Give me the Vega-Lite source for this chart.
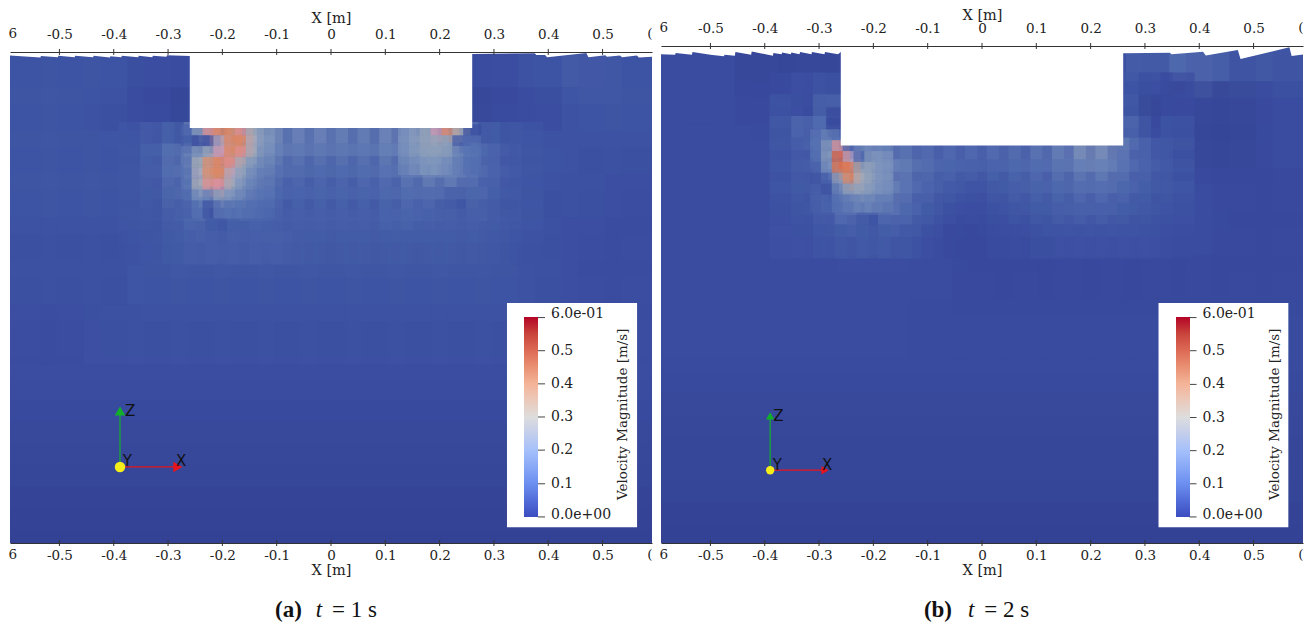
{"$schema":"https://vega.github.io/schema/vega-lite/v6.json","background":"white","padding":{"left":8,"top":7,"right":0,"bottom":0},"bounds":"flush","spacing":9,
"resolve":{"scale":{"stroke":"independent","fill":"independent","color":"independent","shape":"independent"},"legend":{"stroke":"independent"}},
"config":{"view":{"stroke":null},"axis":{"labelFont":"DejaVu Serif","labelFontSize":13.5,"labelColor":"#222","titleFont":"DejaVu Serif","titleFontSize":14.5,"titleFontWeight":"normal","titleColor":"#222","domain":true,"domainColor":"#333","domainWidth":1,"ticks":false,"grid":false,"labelOverlap":false,"labelFlush":false},"legend":{"gradientLength":200,"gradientThickness":14,"gradientStrokeWidth":0,"labelOverlap":false}},
"datasets":{
"a_band":[{"x":-0.6,"x2":0.6,"z":0.02,"z2":-0.57,"v":0.055},{"x":-0.6,"x2":0.6,"z":-0.56,"z2":-0.61,"v":0.05},{"x":-0.6,"x2":0.6,"z":-0.6,"z2":-0.65,"v":0.047},{"x":-0.6,"x2":0.6,"z":-0.64,"z2":-0.69,"v":0.043},{"x":-0.6,"x2":0.6,"z":-0.68,"z2":-0.73,"v":0.04},{"x":-0.6,"x2":0.6,"z":-0.72,"z2":-0.77,"v":0.035},{"x":-0.6,"x2":0.6,"z":-0.76,"z2":-0.81,"v":0.03},{"x":-0.6,"x2":0.6,"z":-0.8,"z2":-0.85,"v":0.026},{"x":-0.6,"x2":0.6,"z":-0.84,"z2":-0.89,"v":0.022},{"x":-0.6,"x2":0.6,"z":-0.88,"z2":-0.93,"v":0.02}],
"b_band":[{"x":-0.6,"x2":0.6,"z":0.02,"z2":-0.57,"v":0.05},{"x":-0.6,"x2":0.6,"z":-0.56,"z2":-0.61,"v":0.045},{"x":-0.6,"x2":0.6,"z":-0.6,"z2":-0.65,"v":0.042},{"x":-0.6,"x2":0.6,"z":-0.64,"z2":-0.69,"v":0.04},{"x":-0.6,"x2":0.6,"z":-0.68,"z2":-0.73,"v":0.037},{"x":-0.6,"x2":0.6,"z":-0.72,"z2":-0.77,"v":0.033},{"x":-0.6,"x2":0.6,"z":-0.76,"z2":-0.81,"v":0.03},{"x":-0.6,"x2":0.6,"z":-0.8,"z2":-0.85,"v":0.027},{"x":-0.6,"x2":0.6,"z":-0.84,"z2":-0.89,"v":0.023},{"x":-0.6,"x2":0.6,"z":-0.88,"z2":-0.93,"v":0.02}],
"a_far":[
{"x":-0.56,"z":-0.04,"v":0.07},{"x":-0.48,"z":-0.04,"v":0.07},{"x":-0.4,"z":-0.04,"v":0.07},{"x":-0.32,"z":-0.04,"v":0.05},{"x":-0.24,"z":-0.04,"v":0.05},{"x":0.24,"z":-0.04,"v":0.04},{"x":0.32,"z":-0.04,"v":0.05},{"x":0.4,"z":-0.04,"v":0.07},{"x":0.48,"z":-0.04,"v":0.09},{"x":0.56,"z":-0.04,"v":0.07},
{"x":-0.56,"z":-0.12,"v":0.07},{"x":-0.48,"z":-0.12,"v":0.07},{"x":-0.4,"z":-0.12,"v":0.06},{"x":-0.32,"z":-0.12,"v":0.04},{"x":-0.24,"z":-0.12,"v":0.03},{"x":0.24,"z":-0.12,"v":0.03},{"x":0.32,"z":-0.12,"v":0.04},{"x":0.4,"z":-0.12,"v":0.05},{"x":0.48,"z":-0.12,"v":0.07},{"x":0.56,"z":-0.12,"v":0.07},
{"x":-0.56,"z":-0.2,"v":0.07},{"x":-0.48,"z":-0.2,"v":0.07},{"x":-0.4,"z":-0.2,"v":0.07},{"x":0.4,"z":-0.2,"v":0.07},{"x":0.48,"z":-0.2,"v":0.06},{"x":0.56,"z":-0.2,"v":0.06},
{"x":-0.56,"z":-0.28,"v":0.07},{"x":-0.48,"z":-0.28,"v":0.07},{"x":-0.4,"z":-0.28,"v":0.07},{"x":0.4,"z":-0.28,"v":0.06},{"x":0.48,"z":-0.28,"v":0.06},{"x":0.56,"z":-0.28,"v":0.05},
{"x":-0.56,"z":-0.36,"v":0.06},{"x":-0.48,"z":-0.36,"v":0.06},{"x":-0.4,"z":-0.36,"v":0.06},{"x":-0.32,"z":-0.36,"v":0.07},{"x":-0.24,"z":-0.36,"v":0.08},{"x":-0.16,"z":-0.36,"v":0.08},{"x":-0.08,"z":-0.36,"v":0.08},{"x":0,"z":-0.36,"v":0.08},{"x":0.08,"z":-0.36,"v":0.08},{"x":0.16,"z":-0.36,"v":0.08},{"x":0.24,"z":-0.36,"v":0.08},{"x":0.32,"z":-0.36,"v":0.07},{"x":0.4,"z":-0.36,"v":0.06},{"x":0.48,"z":-0.36,"v":0.05},{"x":0.56,"z":-0.36,"v":0.05},
{"x":-0.56,"z":-0.44,"v":0.06},{"x":-0.48,"z":-0.44,"v":0.06},{"x":-0.4,"z":-0.44,"v":0.06},{"x":-0.32,"z":-0.44,"v":0.07},{"x":-0.24,"z":-0.44,"v":0.07},{"x":-0.16,"z":-0.44,"v":0.07},{"x":-0.08,"z":-0.44,"v":0.07},{"x":0,"z":-0.44,"v":0.07},{"x":0.08,"z":-0.44,"v":0.07},{"x":0.16,"z":-0.44,"v":0.07},{"x":0.24,"z":-0.44,"v":0.07},{"x":0.32,"z":-0.44,"v":0.07},{"x":0.4,"z":-0.44,"v":0.06},{"x":0.48,"z":-0.44,"v":0.05},{"x":0.56,"z":-0.44,"v":0.05},
{"x":-0.56,"z":-0.52,"v":0.05},{"x":-0.48,"z":-0.52,"v":0.05},{"x":-0.4,"z":-0.52,"v":0.06},{"x":-0.32,"z":-0.52,"v":0.06},{"x":-0.24,"z":-0.52,"v":0.06},{"x":-0.16,"z":-0.52,"v":0.06},{"x":-0.08,"z":-0.52,"v":0.06},{"x":0,"z":-0.52,"v":0.06},{"x":0.08,"z":-0.52,"v":0.06},{"x":0.16,"z":-0.52,"v":0.06},{"x":0.24,"z":-0.52,"v":0.06},{"x":0.32,"z":-0.52,"v":0.06},{"x":0.4,"z":-0.52,"v":0.05},{"x":0.48,"z":-0.52,"v":0.05},{"x":0.56,"z":-0.52,"v":0.05}],
"a_mid":[
{"x":-0.36,"z":-0.16,"v":0.07},{"x":-0.32,"z":-0.16,"v":0.09},{"x":-0.28,"z":-0.16,"v":0.1},{"x":-0.24,"z":-0.16,"v":0.17},{"x":-0.2,"z":-0.16,"v":0.4},{"x":-0.16,"z":-0.16,"v":0.3},{"x":-0.12,"z":-0.16,"v":0.22},{"x":-0.08,"z":-0.16,"v":0.18},{"x":-0.04,"z":-0.16,"v":0.18},{"x":0,"z":-0.16,"v":0.18},{"x":0.04,"z":-0.16,"v":0.17},{"x":0.08,"z":-0.16,"v":0.17},{"x":0.12,"z":-0.16,"v":0.19},{"x":0.16,"z":-0.16,"v":0.21},{"x":0.2,"z":-0.16,"v":0.25},{"x":0.24,"z":-0.16,"v":0.18},{"x":0.28,"z":-0.16,"v":0.1},{"x":0.32,"z":-0.16,"v":0.08},{"x":0.36,"z":-0.16,"v":0.07},
{"x":-0.36,"z":-0.2,"v":0.07},{"x":-0.32,"z":-0.2,"v":0.1},{"x":-0.28,"z":-0.2,"v":0.14},{"x":-0.24,"z":-0.2,"v":0.22},{"x":-0.2,"z":-0.2,"v":0.38},{"x":-0.16,"z":-0.2,"v":0.27},{"x":-0.12,"z":-0.2,"v":0.18},{"x":-0.08,"z":-0.2,"v":0.15},{"x":-0.04,"z":-0.2,"v":0.14},{"x":0,"z":-0.2,"v":0.14},{"x":0.04,"z":-0.2,"v":0.14},{"x":0.08,"z":-0.2,"v":0.14},{"x":0.12,"z":-0.2,"v":0.16},{"x":0.16,"z":-0.2,"v":0.19},{"x":0.2,"z":-0.2,"v":0.23},{"x":0.24,"z":-0.2,"v":0.19},{"x":0.28,"z":-0.2,"v":0.13},{"x":0.32,"z":-0.2,"v":0.09},{"x":0.36,"z":-0.2,"v":0.07},
{"x":-0.36,"z":-0.24,"v":0.07},{"x":-0.32,"z":-0.24,"v":0.09},{"x":-0.28,"z":-0.24,"v":0.13},{"x":-0.24,"z":-0.24,"v":0.22},{"x":-0.2,"z":-0.24,"v":0.3},{"x":-0.16,"z":-0.24,"v":0.2},{"x":-0.12,"z":-0.24,"v":0.14},{"x":-0.08,"z":-0.24,"v":0.12},{"x":-0.04,"z":-0.24,"v":0.11},{"x":0,"z":-0.24,"v":0.11},{"x":0.04,"z":-0.24,"v":0.11},{"x":0.08,"z":-0.24,"v":0.12},{"x":0.12,"z":-0.24,"v":0.13},{"x":0.16,"z":-0.24,"v":0.15},{"x":0.2,"z":-0.24,"v":0.17},{"x":0.24,"z":-0.24,"v":0.16},{"x":0.28,"z":-0.24,"v":0.12},{"x":0.32,"z":-0.24,"v":0.09},{"x":0.36,"z":-0.24,"v":0.07},
{"x":-0.36,"z":-0.28,"v":0.07},{"x":-0.32,"z":-0.28,"v":0.08},{"x":-0.28,"z":-0.28,"v":0.11},{"x":-0.24,"z":-0.28,"v":0.15},{"x":-0.2,"z":-0.28,"v":0.1},{"x":-0.16,"z":-0.28,"v":0.14},{"x":-0.12,"z":-0.28,"v":0.12},{"x":-0.08,"z":-0.28,"v":0.1},{"x":-0.04,"z":-0.28,"v":0.1},{"x":0,"z":-0.28,"v":0.1},{"x":0.04,"z":-0.28,"v":0.1},{"x":0.08,"z":-0.28,"v":0.1},{"x":0.12,"z":-0.28,"v":0.11},{"x":0.16,"z":-0.28,"v":0.12},{"x":0.2,"z":-0.28,"v":0.11},{"x":0.24,"z":-0.28,"v":0.08},{"x":0.28,"z":-0.28,"v":0.11},{"x":0.32,"z":-0.28,"v":0.08},{"x":0.36,"z":-0.28,"v":0.07},
{"x":-0.36,"z":-0.32,"v":0.07},{"x":-0.32,"z":-0.32,"v":0.07},{"x":-0.28,"z":-0.32,"v":0.09},{"x":-0.24,"z":-0.32,"v":0.11},{"x":-0.2,"z":-0.32,"v":0.07},{"x":-0.16,"z":-0.32,"v":0.1},{"x":-0.12,"z":-0.32,"v":0.1},{"x":-0.08,"z":-0.32,"v":0.09},{"x":-0.04,"z":-0.32,"v":0.09},{"x":0,"z":-0.32,"v":0.09},{"x":0.04,"z":-0.32,"v":0.09},{"x":0.08,"z":-0.32,"v":0.09},{"x":0.12,"z":-0.32,"v":0.1},{"x":0.16,"z":-0.32,"v":0.1},{"x":0.2,"z":-0.32,"v":0.09},{"x":0.24,"z":-0.32,"v":0.09},{"x":0.28,"z":-0.32,"v":0.09},{"x":0.32,"z":-0.32,"v":0.08},{"x":0.36,"z":-0.32,"v":0.07},
{"x":-0.36,"z":-0.36,"v":0.06},{"x":-0.32,"z":-0.36,"v":0.07},{"x":-0.28,"z":-0.36,"v":0.08},{"x":-0.24,"z":-0.36,"v":0.09},{"x":-0.2,"z":-0.36,"v":0.09},{"x":-0.16,"z":-0.36,"v":0.09},{"x":-0.12,"z":-0.36,"v":0.09},{"x":-0.08,"z":-0.36,"v":0.09},{"x":-0.04,"z":-0.36,"v":0.08},{"x":0,"z":-0.36,"v":0.08},{"x":0.04,"z":-0.36,"v":0.08},{"x":0.08,"z":-0.36,"v":0.08},{"x":0.12,"z":-0.36,"v":0.08},{"x":0.16,"z":-0.36,"v":0.08},{"x":0.2,"z":-0.36,"v":0.08},{"x":0.24,"z":-0.36,"v":0.08},{"x":0.28,"z":-0.36,"v":0.08},{"x":0.32,"z":-0.36,"v":0.07},{"x":0.36,"z":-0.36,"v":0.06}],
"a_fine":[
{"x":-0.26,"z":-0.15,"v":0.1},{"x":-0.24,"z":-0.15,"v":0.24},{"x":-0.22,"z":-0.15,"v":0.38},{"x":-0.2,"z":-0.15,"v":0.42},{"x":-0.18,"z":-0.15,"v":0.42},{"x":-0.16,"z":-0.15,"v":0.38},{"x":-0.14,"z":-0.15,"v":0.28},{"x":-0.12,"z":-0.15,"v":0.21},
{"x":-0.26,"z":-0.17,"v":0.08},{"x":-0.24,"z":-0.17,"v":0.05},{"x":-0.22,"z":-0.17,"v":0.07},{"x":-0.2,"z":-0.17,"v":0.33},{"x":-0.18,"z":-0.17,"v":0.43},{"x":-0.16,"z":-0.17,"v":0.42},{"x":-0.14,"z":-0.17,"v":0.32},{"x":-0.12,"z":-0.17,"v":0.21},
{"x":-0.26,"z":-0.19,"v":0.15},{"x":-0.24,"z":-0.19,"v":0.22},{"x":-0.22,"z":-0.19,"v":0.26},{"x":-0.2,"z":-0.19,"v":0.36},{"x":-0.18,"z":-0.19,"v":0.42},{"x":-0.16,"z":-0.19,"v":0.38},{"x":-0.14,"z":-0.19,"v":0.28},{"x":-0.12,"z":-0.19,"v":0.19},
{"x":-0.26,"z":-0.21,"v":0.14},{"x":-0.24,"z":-0.21,"v":0.3},{"x":-0.22,"z":-0.21,"v":0.41},{"x":-0.2,"z":-0.21,"v":0.43},{"x":-0.18,"z":-0.21,"v":0.38},{"x":-0.16,"z":-0.21,"v":0.28},{"x":-0.14,"z":-0.21,"v":0.21},{"x":-0.12,"z":-0.21,"v":0.17},
{"x":-0.26,"z":-0.23,"v":0.13},{"x":-0.24,"z":-0.23,"v":0.32},{"x":-0.22,"z":-0.23,"v":0.41},{"x":-0.2,"z":-0.23,"v":0.42},{"x":-0.18,"z":-0.23,"v":0.33},{"x":-0.16,"z":-0.23,"v":0.24},{"x":-0.14,"z":-0.23,"v":0.18},{"x":-0.12,"z":-0.23,"v":0.15},
{"x":-0.26,"z":-0.25,"v":0.13},{"x":-0.24,"z":-0.25,"v":0.3},{"x":-0.22,"z":-0.25,"v":0.38},{"x":-0.2,"z":-0.25,"v":0.37},{"x":-0.18,"z":-0.25,"v":0.28},{"x":-0.16,"z":-0.25,"v":0.2},{"x":-0.14,"z":-0.25,"v":0.16},{"x":-0.12,"z":-0.25,"v":0.14},
{"x":-0.26,"z":-0.27,"v":0.11},{"x":-0.24,"z":-0.27,"v":0.2},{"x":-0.22,"z":-0.27,"v":0.16},{"x":-0.2,"z":-0.27,"v":0.25},{"x":-0.18,"z":-0.27,"v":0.2},{"x":-0.16,"z":-0.27,"v":0.17},{"x":-0.14,"z":-0.27,"v":0.14},{"x":-0.12,"z":-0.27,"v":0.13},
{"x":-0.26,"z":-0.29,"v":0.09},{"x":-0.24,"z":-0.29,"v":0.13},{"x":-0.22,"z":-0.29,"v":0.06},{"x":-0.2,"z":-0.29,"v":0.14},{"x":-0.18,"z":-0.29,"v":0.13},{"x":-0.16,"z":-0.29,"v":0.13},{"x":-0.14,"z":-0.29,"v":0.12},{"x":-0.12,"z":-0.29,"v":0.11},
{"x":0.14,"z":-0.15,"v":0.2},{"x":0.16,"z":-0.15,"v":0.23},{"x":0.18,"z":-0.15,"v":0.26},{"x":0.2,"z":-0.15,"v":0.36},{"x":0.22,"z":-0.15,"v":0.42},{"x":0.24,"z":-0.15,"v":0.3},{"x":0.26,"z":-0.15,"v":0.05},
{"x":0.14,"z":-0.17,"v":0.2},{"x":0.16,"z":-0.17,"v":0.23},{"x":0.18,"z":-0.17,"v":0.25},{"x":0.2,"z":-0.17,"v":0.26},{"x":0.22,"z":-0.17,"v":0.24},{"x":0.24,"z":-0.17,"v":0.07},{"x":0.26,"z":-0.17,"v":0.12},
{"x":0.14,"z":-0.19,"v":0.19},{"x":0.16,"z":-0.19,"v":0.22},{"x":0.18,"z":-0.19,"v":0.24},{"x":0.2,"z":-0.19,"v":0.24},{"x":0.22,"z":-0.19,"v":0.22},{"x":0.24,"z":-0.19,"v":0.16},{"x":0.26,"z":-0.19,"v":0.13},
{"x":0.14,"z":-0.21,"v":0.17},{"x":0.16,"z":-0.21,"v":0.19},{"x":0.18,"z":-0.21,"v":0.21},{"x":0.2,"z":-0.21,"v":0.21},{"x":0.22,"z":-0.21,"v":0.18},{"x":0.24,"z":-0.21,"v":0.15},{"x":0.26,"z":-0.21,"v":0.12}],
"b_far":[
{"x":-0.56,"z":-0.04,"v":0.05},{"x":-0.48,"z":-0.04,"v":0.05},{"x":-0.4,"z":-0.04,"v":0.03},{"x":-0.32,"z":-0.04,"v":0.03},{"x":-0.24,"z":-0.04,"v":0.03},{"x":0.24,"z":-0.04,"v":0.06},{"x":0.32,"z":-0.04,"v":0.1},{"x":0.4,"z":-0.04,"v":0.13},{"x":0.48,"z":-0.04,"v":0.08},{"x":0.56,"z":-0.04,"v":0.08},
{"x":-0.56,"z":-0.12,"v":0.05},{"x":-0.48,"z":-0.12,"v":0.05},{"x":-0.4,"z":-0.12,"v":0.04},{"x":-0.32,"z":-0.12,"v":0.04},{"x":-0.24,"z":-0.12,"v":0.03},{"x":0.24,"z":-0.12,"v":0.04},{"x":0.32,"z":-0.12,"v":0.05},{"x":0.4,"z":-0.12,"v":0.03},{"x":0.48,"z":-0.12,"v":0.03},{"x":0.56,"z":-0.12,"v":0.05},
{"x":-0.56,"z":-0.2,"v":0.05},{"x":-0.48,"z":-0.2,"v":0.05},{"x":-0.4,"z":-0.2,"v":0.05},{"x":0.4,"z":-0.2,"v":0.03},{"x":0.48,"z":-0.2,"v":0.03},{"x":0.56,"z":-0.2,"v":0.05},
{"x":-0.56,"z":-0.28,"v":0.05},{"x":-0.48,"z":-0.28,"v":0.05},{"x":-0.4,"z":-0.28,"v":0.05},{"x":0.4,"z":-0.28,"v":0.05},{"x":0.48,"z":-0.28,"v":0.04},{"x":0.56,"z":-0.28,"v":0.04},
{"x":-0.56,"z":-0.36,"v":0.05},{"x":-0.48,"z":-0.36,"v":0.05},{"x":-0.4,"z":-0.36,"v":0.05},{"x":-0.32,"z":-0.36,"v":0.05},{"x":-0.24,"z":-0.36,"v":0.06},{"x":-0.16,"z":-0.36,"v":0.06},{"x":-0.08,"z":-0.36,"v":0.05},{"x":0,"z":-0.36,"v":0.04},{"x":0.08,"z":-0.36,"v":0.04},{"x":0.16,"z":-0.36,"v":0.05},{"x":0.24,"z":-0.36,"v":0.05},{"x":0.32,"z":-0.36,"v":0.05},{"x":0.4,"z":-0.36,"v":0.05},{"x":0.48,"z":-0.36,"v":0.04},{"x":0.56,"z":-0.36,"v":0.04},
{"x":-0.56,"z":-0.44,"v":0.05},{"x":-0.48,"z":-0.44,"v":0.05},{"x":-0.4,"z":-0.44,"v":0.05},{"x":-0.32,"z":-0.44,"v":0.05},{"x":-0.24,"z":-0.44,"v":0.05},{"x":-0.16,"z":-0.44,"v":0.05},{"x":-0.08,"z":-0.44,"v":0.05},{"x":0,"z":-0.44,"v":0.04},{"x":0.08,"z":-0.44,"v":0.04},{"x":0.16,"z":-0.44,"v":0.04},{"x":0.24,"z":-0.44,"v":0.04},{"x":0.32,"z":-0.44,"v":0.04},{"x":0.4,"z":-0.44,"v":0.04},{"x":0.48,"z":-0.44,"v":0.04},{"x":0.56,"z":-0.44,"v":0.04},
{"x":-0.56,"z":-0.52,"v":0.05},{"x":-0.48,"z":-0.52,"v":0.05},{"x":-0.4,"z":-0.52,"v":0.05},{"x":-0.32,"z":-0.52,"v":0.05},{"x":-0.24,"z":-0.52,"v":0.05},{"x":-0.16,"z":-0.52,"v":0.05},{"x":-0.08,"z":-0.52,"v":0.045},{"x":0,"z":-0.52,"v":0.045},{"x":0.08,"z":-0.52,"v":0.045},{"x":0.16,"z":-0.52,"v":0.045},{"x":0.24,"z":-0.52,"v":0.045},{"x":0.32,"z":-0.52,"v":0.045},{"x":0.4,"z":-0.52,"v":0.045},{"x":0.48,"z":-0.52,"v":0.045},{"x":0.56,"z":-0.52,"v":0.045}],
"b_mid":[
{"x":-0.36,"z":-0.08,"v":0.05},{"x":-0.32,"z":-0.08,"v":0.06},{"x":-0.28,"z":-0.08,"v":0.07},{"x":0.28,"z":-0.08,"v":0.07},{"x":0.32,"z":-0.08,"v":0.05},{"x":0.36,"z":-0.08,"v":0.04},
{"x":-0.36,"z":-0.12,"v":0.07},{"x":-0.32,"z":-0.12,"v":0.05},{"x":-0.28,"z":-0.12,"v":0.11},{"x":0.28,"z":-0.12,"v":0.08},{"x":0.32,"z":-0.12,"v":0.03},{"x":0.36,"z":-0.12,"v":0.05},
{"x":-0.36,"z":-0.16,"v":0.08},{"x":-0.32,"z":-0.16,"v":0.12},{"x":-0.28,"z":-0.16,"v":0.12},{"x":0.28,"z":-0.16,"v":0.12},{"x":0.32,"z":-0.16,"v":0.05},{"x":0.36,"z":-0.16,"v":0.07},
{"x":-0.36,"z":-0.2,"v":0.07},{"x":-0.32,"z":-0.2,"v":0.09},{"x":-0.28,"z":-0.2,"v":0.14},{"x":-0.24,"z":-0.2,"v":0.17},{"x":-0.2,"z":-0.2,"v":0.17},{"x":-0.16,"z":-0.2,"v":0.16},{"x":-0.12,"z":-0.2,"v":0.14},{"x":-0.08,"z":-0.2,"v":0.12},{"x":-0.04,"z":-0.2,"v":0.12},{"x":0,"z":-0.2,"v":0.12},{"x":0.04,"z":-0.2,"v":0.13},{"x":0.08,"z":-0.2,"v":0.13},{"x":0.12,"z":-0.2,"v":0.15},{"x":0.16,"z":-0.2,"v":0.18},{"x":0.2,"z":-0.2,"v":0.23},{"x":0.24,"z":-0.2,"v":0.21},{"x":0.28,"z":-0.2,"v":0.13},{"x":0.32,"z":-0.2,"v":0.09},{"x":0.36,"z":-0.2,"v":0.07},
{"x":-0.36,"z":-0.24,"v":0.07},{"x":-0.32,"z":-0.24,"v":0.09},{"x":-0.28,"z":-0.24,"v":0.13},{"x":-0.24,"z":-0.24,"v":0.28},{"x":-0.2,"z":-0.24,"v":0.22},{"x":-0.16,"z":-0.24,"v":0.18},{"x":-0.12,"z":-0.24,"v":0.14},{"x":-0.08,"z":-0.24,"v":0.11},{"x":-0.04,"z":-0.24,"v":0.1},{"x":0,"z":-0.24,"v":0.09},{"x":0.04,"z":-0.24,"v":0.1},{"x":0.08,"z":-0.24,"v":0.11},{"x":0.12,"z":-0.24,"v":0.12},{"x":0.16,"z":-0.24,"v":0.14},{"x":0.2,"z":-0.24,"v":0.16},{"x":0.24,"z":-0.24,"v":0.16},{"x":0.28,"z":-0.24,"v":0.12},{"x":0.32,"z":-0.24,"v":0.09},{"x":0.36,"z":-0.24,"v":0.07},
{"x":-0.36,"z":-0.28,"v":0.07},{"x":-0.32,"z":-0.28,"v":0.08},{"x":-0.28,"z":-0.28,"v":0.09},{"x":-0.24,"z":-0.28,"v":0.16},{"x":-0.2,"z":-0.28,"v":0.2},{"x":-0.16,"z":-0.28,"v":0.17},{"x":-0.12,"z":-0.28,"v":0.12},{"x":-0.08,"z":-0.28,"v":0.09},{"x":-0.04,"z":-0.28,"v":0.07},{"x":0,"z":-0.28,"v":0.06},{"x":0.04,"z":-0.28,"v":0.08},{"x":0.08,"z":-0.28,"v":0.09},{"x":0.12,"z":-0.28,"v":0.1},{"x":0.16,"z":-0.28,"v":0.11},{"x":0.2,"z":-0.28,"v":0.12},{"x":0.24,"z":-0.28,"v":0.12},{"x":0.28,"z":-0.28,"v":0.1},{"x":0.32,"z":-0.28,"v":0.08},{"x":0.36,"z":-0.28,"v":0.07},
{"x":-0.36,"z":-0.32,"v":0.06},{"x":-0.32,"z":-0.32,"v":0.07},{"x":-0.28,"z":-0.32,"v":0.09},{"x":-0.24,"z":-0.32,"v":0.13},{"x":-0.2,"z":-0.32,"v":0.07},{"x":-0.16,"z":-0.32,"v":0.13},{"x":-0.12,"z":-0.32,"v":0.1},{"x":-0.08,"z":-0.32,"v":0.07},{"x":-0.04,"z":-0.32,"v":0.05},{"x":0,"z":-0.32,"v":0.05},{"x":0.04,"z":-0.32,"v":0.06},{"x":0.08,"z":-0.32,"v":0.07},{"x":0.12,"z":-0.32,"v":0.08},{"x":0.16,"z":-0.32,"v":0.09},{"x":0.2,"z":-0.32,"v":0.09},{"x":0.24,"z":-0.32,"v":0.09},{"x":0.28,"z":-0.32,"v":0.08},{"x":0.32,"z":-0.32,"v":0.07},{"x":0.36,"z":-0.32,"v":0.06},
{"x":-0.36,"z":-0.36,"v":0.06},{"x":-0.32,"z":-0.36,"v":0.06},{"x":-0.28,"z":-0.36,"v":0.07},{"x":-0.24,"z":-0.36,"v":0.08},{"x":-0.2,"z":-0.36,"v":0.08},{"x":-0.16,"z":-0.36,"v":0.08},{"x":-0.12,"z":-0.36,"v":0.07},{"x":-0.08,"z":-0.36,"v":0.05},{"x":-0.04,"z":-0.36,"v":0.04},{"x":0,"z":-0.36,"v":0.04},{"x":0.04,"z":-0.36,"v":0.05},{"x":0.08,"z":-0.36,"v":0.05},{"x":0.12,"z":-0.36,"v":0.06},{"x":0.16,"z":-0.36,"v":0.06},{"x":0.2,"z":-0.36,"v":0.06},{"x":0.24,"z":-0.36,"v":0.06},{"x":0.28,"z":-0.36,"v":0.06},{"x":0.32,"z":-0.36,"v":0.06},{"x":0.36,"z":-0.36,"v":0.05}],
"b_fine":[
{"x":-0.27,"z":-0.13,"v":0.04},{"x":-0.27,"z":-0.15,"v":0.04},
{"x":-0.3,"z":-0.17,"v":0.13},{"x":-0.28,"z":-0.17,"v":0.16},{"x":-0.26,"z":-0.17,"v":0.12},
{"x":-0.3,"z":-0.19,"v":0.13},{"x":-0.28,"z":-0.19,"v":0.22},{"x":-0.26,"z":-0.19,"v":0.38},{"x":-0.24,"z":-0.19,"v":0.1},{"x":-0.22,"z":-0.19,"v":0.16},{"x":-0.2,"z":-0.19,"v":0.18},{"x":-0.18,"z":-0.19,"v":0.16},
{"x":-0.3,"z":-0.21,"v":0.12},{"x":-0.28,"z":-0.21,"v":0.23},{"x":-0.26,"z":-0.21,"v":0.52},{"x":-0.24,"z":-0.21,"v":0.34},{"x":-0.22,"z":-0.21,"v":0.1},{"x":-0.2,"z":-0.21,"v":0.22},{"x":-0.18,"z":-0.21,"v":0.2},
{"x":-0.3,"z":-0.23,"v":0.09},{"x":-0.28,"z":-0.23,"v":0.2},{"x":-0.26,"z":-0.23,"v":0.48},{"x":-0.24,"z":-0.23,"v":0.46},{"x":-0.22,"z":-0.23,"v":0.26},{"x":-0.2,"z":-0.23,"v":0.24},{"x":-0.18,"z":-0.23,"v":0.2},
{"x":-0.3,"z":-0.25,"v":0.06},{"x":-0.28,"z":-0.25,"v":0.1},{"x":-0.26,"z":-0.25,"v":0.25},{"x":-0.24,"z":-0.25,"v":0.42},{"x":-0.22,"z":-0.25,"v":0.31},{"x":-0.2,"z":-0.25,"v":0.24},{"x":-0.18,"z":-0.25,"v":0.2},
{"x":-0.3,"z":-0.27,"v":0.09},{"x":-0.28,"z":-0.27,"v":0.06},{"x":-0.26,"z":-0.27,"v":0.17},{"x":-0.24,"z":-0.27,"v":0.25},{"x":-0.22,"z":-0.27,"v":0.25},{"x":-0.2,"z":-0.27,"v":0.22},{"x":-0.18,"z":-0.27,"v":0.19},
{"x":-0.3,"z":-0.29,"v":0.09},{"x":-0.28,"z":-0.29,"v":0.1},{"x":-0.26,"z":-0.29,"v":0.13},{"x":-0.24,"z":-0.29,"v":0.15},{"x":-0.22,"z":-0.29,"v":0.17},{"x":-0.2,"z":-0.29,"v":0.17},{"x":-0.18,"z":-0.29,"v":0.15}],
"a_edge":[{"x":-0.6,"z":-0.006},{"x":-0.535,"z":-0.0104},{"x":-0.534,"z":-0.0074},{"x":-0.503,"z":-0.0098},{"x":-0.502,"z":-0.007},{"x":-0.472,"z":-0.0098},{"x":-0.471,"z":-0.007},{"x":-0.438,"z":-0.0098},{"x":-0.437,"z":-0.007},{"x":-0.407,"z":-0.0104},{"x":-0.406,"z":-0.008},{"x":-0.386,"z":-0.0098},{"x":-0.385,"z":-0.007},{"x":-0.355,"z":-0.0098},{"x":-0.354,"z":-0.007},{"x":-0.329,"z":-0.0098},{"x":-0.328,"z":-0.007},{"x":-0.303,"z":-0.009},{"x":-0.302,"z":-0.006},{"x":-0.26,"z":-0.0074},{"x":0.26,"z":-0.0037},{"x":0.375,"z":-0.0025},{"x":0.378,"z":-0.0055},{"x":0.394,"z":-0.0055},{"x":0.398,"z":-0.0098},{"x":0.47,"z":-0.0018},{"x":0.474,"z":-0.0098},{"x":0.505,"z":-0.006},{"x":0.508,"z":-0.0086},{"x":0.532,"z":-0.0065},{"x":0.536,"z":-0.0098},{"x":0.563,"z":-0.0065},{"x":0.567,"z":-0.0104},{"x":0.6,"z":-0.0085}],
"b_edge":[{"x":-0.595,"z":-0.015},{"x":-0.565,"z":-0.016},{"x":-0.564,"z":-0.013},{"x":-0.534,"z":-0.016},{"x":-0.533,"z":-0.011},{"x":-0.5,"z":-0.016},{"x":-0.475,"z":-0.019},{"x":-0.474,"z":-0.016},{"x":-0.455,"z":-0.018},{"x":-0.454,"z":-0.011},{"x":-0.425,"z":-0.016},{"x":-0.424,"z":-0.01},{"x":-0.385,"z":-0.018},{"x":-0.384,"z":-0.013},{"x":-0.369,"z":-0.015},{"x":-0.368,"z":-0.012},{"x":-0.352,"z":-0.015},{"x":-0.351,"z":-0.012},{"x":-0.336,"z":-0.015},{"x":-0.335,"z":-0.011},{"x":-0.314,"z":-0.015},{"x":-0.313,"z":-0.011},{"x":-0.29,"z":-0.015},{"x":-0.289,"z":-0.011},{"x":-0.265,"z":-0.015},{"x":-0.26,"z":-0.011},{"x":0.26,"z":-0.0135},{"x":0.346,"z":-0.0123},{"x":0.349,"z":-0.0153},{"x":0.407,"z":-0.0104},{"x":0.412,"z":-0.0177},{"x":0.471,"z":-0.0074},{"x":0.476,"z":-0.0239},{"x":0.566,"z":-0.0025},{"x":0.57,"z":-0.0184},{"x":0.6,"z":-0.0147}],
"a_box":[{"x":-0.26,"x2":0.26,"z":0.011,"z2":-0.14},{"x":0.324,"x2":0.5635,"z":-0.462,"z2":-0.875}],
"b_box":[{"x":-0.26,"x2":0.26,"z":0,"z2":-0.183},{"x":0.325,"x2":0.564,"z":-0.473,"z2":-0.886}],
"a_ticks":[{"x":-0.5,"z":0},{"x":-0.4,"z":0},{"x":-0.3,"z":0},{"x":-0.2,"z":0},{"x":-0.1,"z":0},{"x":0,"z":0},{"x":0.1,"z":0},{"x":0.2,"z":0},{"x":0.3,"z":0},{"x":0.4,"z":0},{"x":0.5,"z":0},{"x":-0.5,"z":-0.904},{"x":-0.4,"z":-0.904},{"x":-0.3,"z":-0.904},{"x":-0.2,"z":-0.904},{"x":-0.1,"z":-0.904},{"x":0,"z":-0.904},{"x":0.1,"z":-0.904},{"x":0.2,"z":-0.904},{"x":0.3,"z":-0.904},{"x":0.4,"z":-0.904},{"x":0.5,"z":-0.904}],
"b_ticks":[{"x":-0.5,"z":0},{"x":-0.4,"z":0},{"x":-0.3,"z":0},{"x":-0.2,"z":0},{"x":-0.1,"z":0},{"x":0,"z":0},{"x":0.1,"z":0},{"x":0.2,"z":0},{"x":0.3,"z":0},{"x":0.4,"z":0},{"x":0.5,"z":0},{"x":-0.5,"z":-0.915},{"x":-0.4,"z":-0.915},{"x":-0.3,"z":-0.915},{"x":-0.2,"z":-0.915},{"x":-0.1,"z":-0.915},{"x":0,"z":-0.915},{"x":0.1,"z":-0.915},{"x":0.2,"z":-0.915},{"x":0.3,"z":-0.915},{"x":0.4,"z":-0.915},{"x":0.5,"z":-0.915}],
"a_cbticks":[{"x":0.381,"x2":0.394,"z":-0.856},{"x":0.381,"x2":0.394,"z":-0.795},{"x":0.381,"x2":0.394,"z":-0.733},{"x":0.381,"x2":0.394,"z":-0.672},{"x":0.381,"x2":0.394,"z":-0.611},{"x":0.381,"x2":0.394,"z":-0.55},{"x":0.381,"x2":0.394,"z":-0.489}],
"b_cbticks":[{"x":0.382,"x2":0.395,"z":-0.867},{"x":0.382,"x2":0.395,"z":-0.806},{"x":0.382,"x2":0.395,"z":-0.745},{"x":0.382,"x2":0.395,"z":-0.684},{"x":0.382,"x2":0.395,"z":-0.623},{"x":0.382,"x2":0.395,"z":-0.561},{"x":0.382,"x2":0.395,"z":-0.5}],
"a_cblab":[{"t":"0.0e+00","x":0.405,"z":-0.852},{"t":"0.1","x":0.405,"z":-0.795},{"t":"0.2","x":0.405,"z":-0.733},{"t":"0.3","x":0.405,"z":-0.672},{"t":"0.4","x":0.405,"z":-0.611},{"t":"0.5","x":0.405,"z":-0.55},{"t":"6.0e-01","x":0.405,"z":-0.483}],
"b_cblab":[{"t":"0.0e+00","x":0.406,"z":-0.863},{"t":"0.1","x":0.406,"z":-0.806},{"t":"0.2","x":0.406,"z":-0.745},{"t":"0.3","x":0.406,"z":-0.684},{"t":"0.4","x":0.406,"z":-0.623},{"t":"0.5","x":0.406,"z":-0.561},{"t":"6.0e-01","x":0.406,"z":-0.494}],
"a_triad":[{"axis":"X","x":-0.3885,"x2":-0.282,"z":-0.764,"z2":-0.764},{"axis":"Z","x":-0.3885,"x2":-0.3885,"z":-0.764,"z2":-0.661}],
"b_triad":[{"axis":"X","x":-0.39,"x2":-0.289,"z":-0.781,"z2":-0.781},{"axis":"Z","x":-0.39,"x2":-0.39,"z":-0.781,"z2":-0.681}],
"a_tips":[{"axis":"X","x":-0.282,"z":-0.764},{"axis":"Y","x":-0.3885,"z":-0.764},{"axis":"Z","x":-0.3885,"z":-0.661}],
"b_tips":[{"axis":"X","x":-0.289,"z":-0.781},{"axis":"Y","x":-0.39,"z":-0.781},{"axis":"Z","x":-0.39,"z":-0.681}],
"a_tlab":[{"t":"X","x":-0.276,"z":-0.753},{"t":"Y","x":-0.375,"z":-0.753},{"t":"Z","x":-0.37,"z":-0.661}],
"b_tlab":[{"t":"X","x":-0.285,"z":-0.772},{"t":"Y","x":-0.377,"z":-0.772},{"t":"Z","x":-0.375,"z":-0.681}],
"a_cut":[{"t":"6","x":-0.586,"z":0.033},{"t":"(","x":0.587,"z":0.033},{"t":"6","x":-0.586,"z":-0.926},{"t":"(","x":0.587,"z":-0.926}],
"b_cut":[{"t":"6","x":-0.586,"z":0.033},{"t":"(","x":0.587,"z":0.033},{"t":"6","x":-0.586,"z":-0.937},{"t":"(","x":0.587,"z":-0.937}]
},
"hconcat":[
{"width":642,"height":497,"resolve":{"axis":{"x":"independent"}},
"encoding":{"x":{"field":"x","type":"quantitative","scale":{"domain":[-0.591,0.591]},"axis":null},"y":{"field":"z","type":"quantitative","scale":{"domain":[-0.904,0.011]},"axis":null}},
"layer":[
{"data":{"name":"a_band"},"mark":{"type":"rect","clip":true},"encoding":{"x2":{"field":"x2"},"y2":{"field":"z2"},"fill":{"field":"v","type":"quantitative","legend":null,"scale":{"domain":[0,0.05,0.1,0.2,0.3,0.4,0.5,0.6],"range":["#2f3b8c","#3a4da0","#4a64ac","#7a92bd","#a9aeb5","#d98f70","#df6a45","#b40426"]}}}},
{"data":{"name":"a_far"},"mark":{"type":"rect","clip":true,"width":60,"height":60,"opacity":0.6},"encoding":{"x":{"field":"x","type":"quantitative","scale":{"domain":[-0.591,0.591]},"axis":{"orient":"bottom","title":"X [m]","domain":true,"zindex":1,"values":[-0.5,-0.4,-0.3,-0.2,-0.1,0,0.1,0.2,0.3,0.4,0.5],"labelExpr":"''+datum.value","labelPadding":5,"titlePadding":2}},"fill":{"field":"v","type":"quantitative","legend":null}}},
{"data":{"name":"a_mid"},"mark":{"type":"rect","clip":true,"width":34,"height":34,"opacity":0.6},"encoding":{"x":{"field":"x","type":"quantitative","scale":{"domain":[-0.591,0.591]},"axis":{"orient":"top","title":"X [m]","domain":true,"zindex":1,"values":[-0.5,-0.4,-0.3,-0.2,-0.1,0,0.1,0.2,0.3,0.4,0.5],"labelExpr":"''+datum.value","offset":-6,"labelPadding":11,"titlePadding":2}},"fill":{"field":"v","type":"quantitative","legend":null}}},
{"data":{"name":"a_fine"},"mark":{"type":"rect","clip":true,"width":18,"height":18,"opacity":0.7},"encoding":{"fill":{"field":"v","type":"quantitative","legend":null}}},
{"data":{"name":"a_edge"},"mark":{"type":"area","color":"white","clip":true,"opacity":1},"encoding":{"y2":{"datum":0.011}}},
{"data":{"name":"a_box"},"mark":{"type":"rect","color":"white"},"encoding":{"x2":{"field":"x2"},"y2":{"field":"z2"}}},
{"data":{"name":"a_band"},"mark":{"type":"rect","fill":"transparent","width":1,"height":1,"strokeWidth":0,"clip":true},"encoding":{"stroke":{"field":"v","type":"quantitative","scale":{"domain":[0,0.1,0.2,0.3,0.4,0.5,0.6],"range":["#3b4cc0","#6c8ff0","#a5c0fb","#dddddd","#f4b497","#dd6a55","#b40426"]},"legend":{"orient":"none","legendX":514,"legendY":271,"title":null,"values":[0,0.6],"labelExpr":"''"}}}},
{"data":{"name":"a_cbticks"},"mark":{"type":"rule","color":"#444","strokeWidth":1},"encoding":{"x2":{"field":"x2"}}},
{"data":{"name":"a_cblab"},"mark":{"type":"text","font":"DejaVu Serif","fontSize":14,"color":"#222","align":"left"},"encoding":{"text":{"field":"t"}}},
{"mark":{"type":"rule","color":"black","strokeWidth":2,"strokeDash":[6,2,1.5,2]},"encoding":{"x":{"datum":0},"y":{"datum":0},"y2":{"datum":-0.904}}},
{"data":{"name":"a_ticks"},"mark":{"type":"point","shape":"M0,-1L0,1","size":36,"stroke":"#333","strokeWidth":1,"opacity":1}},
{"data":{"name":"a_triad"},"mark":{"type":"rule","strokeWidth":1.2},"encoding":{"x2":{"field":"x2"},"y2":{"field":"z2"},"color":{"field":"axis","type":"nominal","legend":null,"scale":{"domain":["X","Y","Z"],"range":["#e8141c","#f5ee1b","#12b02a"]}}}},
{"data":{"name":"a_tips"},"mark":{"type":"point","filled":true,"size":110,"opacity":1},"encoding":{"color":{"field":"axis","type":"nominal","legend":null,"scale":{"domain":["X","Y","Z"],"range":["#e8141c","#f5ee1b","#12b02a"]}},"shape":{"field":"axis","type":"nominal","legend":null,"scale":{"domain":["X","Y","Z"],"range":["triangle-right","circle","triangle-up"]}}}},
{"data":{"name":"a_tlab"},"mark":{"type":"text","font":"DejaVu Sans","fontSize":15,"color":"#111"},"encoding":{"text":{"field":"t"}}},
{"data":{"name":"a_cut"},"mark":{"type":"text","font":"DejaVu Serif","fontSize":13.5,"color":"#222"},"encoding":{"text":{"field":"t"}}},
{"data":{"values":[{"t":"Velocity Magnitude [m/s]","x":0.538,"z":-0.667}]},"mark":{"type":"text","font":"DejaVu Serif","fontSize":13.5,"color":"#222","angle":270},"encoding":{"text":{"field":"t"}}},
{"data":{"values":[{"t":"(a)","x":-0.103,"z":-1.028}]},"mark":{"type":"text","font":"Liberation Serif","fontSize":23,"fontWeight":"bold","align":"left","color":"#111"},"encoding":{"text":{"field":"t"}}},
{"data":{"values":[{"t":"t","x":-0.028,"z":-1.028}]},"mark":{"type":"text","font":"Liberation Serif","fontSize":23,"fontStyle":"italic","align":"left","color":"#111"},"encoding":{"text":{"field":"t"}}},
{"data":{"values":[{"t":"=  1 s","x":0.002,"z":-1.028}]},"mark":{"type":"text","font":"Liberation Serif","fontSize":23,"align":"left","color":"#111"},"encoding":{"text":{"field":"t"}}}
]},
{"width":642,"height":497,"resolve":{"axis":{"x":"independent"}},
"encoding":{"x":{"field":"x","type":"quantitative","scale":{"domain":[-0.591,0.591]},"axis":null},"y":{"field":"z","type":"quantitative","scale":{"domain":[-0.915,0]},"axis":null}},
"layer":[
{"data":{"name":"b_band"},"mark":{"type":"rect","clip":true},"encoding":{"x2":{"field":"x2"},"y2":{"field":"z2"},"fill":{"field":"v","type":"quantitative","legend":null,"scale":{"domain":[0,0.05,0.1,0.2,0.3,0.4,0.5,0.6],"range":["#2f3b8c","#3a4da0","#4a64ac","#7a92bd","#a9aeb5","#d98f70","#df6a45","#b40426"]}}}},
{"data":{"name":"b_far"},"mark":{"type":"rect","clip":true,"width":60,"height":60,"opacity":0.6},"encoding":{"x":{"field":"x","type":"quantitative","scale":{"domain":[-0.591,0.591]},"axis":{"orient":"bottom","title":"X [m]","domain":true,"zindex":1,"values":[-0.5,-0.4,-0.3,-0.2,-0.1,0,0.1,0.2,0.3,0.4,0.5],"labelExpr":"''+datum.value","labelPadding":5,"titlePadding":2}},"fill":{"field":"v","type":"quantitative","legend":null}}},
{"data":{"name":"b_mid"},"mark":{"type":"rect","clip":true,"width":34,"height":34,"opacity":0.6},"encoding":{"x":{"field":"x","type":"quantitative","scale":{"domain":[-0.591,0.591]},"axis":{"orient":"top","title":"X [m]","domain":true,"zindex":1,"values":[-0.5,-0.4,-0.3,-0.2,-0.1,0,0.1,0.2,0.3,0.4,0.5],"labelExpr":"''+datum.value","labelPadding":11,"titlePadding":-1}},"fill":{"field":"v","type":"quantitative","legend":null}}},
{"data":{"name":"b_fine"},"mark":{"type":"rect","clip":true,"width":18,"height":18,"opacity":0.7},"encoding":{"fill":{"field":"v","type":"quantitative","legend":null}}},
{"data":{"name":"b_edge"},"mark":{"type":"area","color":"white","clip":true,"opacity":1},"encoding":{"y2":{"datum":0}}},
{"data":{"name":"b_box"},"mark":{"type":"rect","color":"white"},"encoding":{"x2":{"field":"x2"},"y2":{"field":"z2"}}},
{"data":{"name":"b_band"},"mark":{"type":"rect","fill":"transparent","width":1,"height":1,"strokeWidth":0,"clip":true},"encoding":{"stroke":{"field":"v","type":"quantitative","scale":{"domain":[0,0.1,0.2,0.3,0.4,0.5,0.6],"range":["#3b4cc0","#6c8ff0","#a5c0fb","#dddddd","#f4b497","#dd6a55","#b40426"]},"legend":{"orient":"none","legendX":515,"legendY":271,"title":null,"values":[0,0.6],"labelExpr":"''"}}}},
{"data":{"name":"b_cbticks"},"mark":{"type":"rule","color":"#444","strokeWidth":1},"encoding":{"x2":{"field":"x2"}}},
{"data":{"name":"b_cblab"},"mark":{"type":"text","font":"DejaVu Serif","fontSize":14,"color":"#222","align":"left"},"encoding":{"text":{"field":"t"}}},
{"mark":{"type":"rule","color":"black","strokeWidth":2,"strokeDash":[6,2,1.5,2]},"encoding":{"x":{"datum":0},"y":{"datum":0},"y2":{"datum":-0.915}}},
{"data":{"name":"b_ticks"},"mark":{"type":"point","shape":"M0,-1L0,1","size":36,"stroke":"#333","strokeWidth":1,"opacity":1}},
{"data":{"name":"b_triad"},"mark":{"type":"rule","strokeWidth":1.2},"encoding":{"x2":{"field":"x2"},"y2":{"field":"z2"},"color":{"field":"axis","type":"nominal","legend":null,"scale":{"domain":["X","Y","Z"],"range":["#e8141c","#f5ee1b","#12b02a"]}}}},
{"data":{"name":"b_tips"},"mark":{"type":"point","filled":true,"size":70,"opacity":1},"encoding":{"color":{"field":"axis","type":"nominal","legend":null,"scale":{"domain":["X","Y","Z"],"range":["#e8141c","#f5ee1b","#12b02a"]}},"shape":{"field":"axis","type":"nominal","legend":null,"scale":{"domain":["X","Y","Z"],"range":["triangle-right","circle","triangle-up"]}}}},
{"data":{"name":"b_tlab"},"mark":{"type":"text","font":"DejaVu Sans","fontSize":15,"color":"#111"},"encoding":{"text":{"field":"t"}}},
{"data":{"name":"b_cut"},"mark":{"type":"text","font":"DejaVu Serif","fontSize":13.5,"color":"#222"},"encoding":{"text":{"field":"t"}}},
{"data":{"values":[{"t":"Velocity Magnitude [m/s]","x":0.539,"z":-0.678}]},"mark":{"type":"text","font":"DejaVu Serif","fontSize":13.5,"color":"#222","angle":270},"encoding":{"text":{"field":"t"}}},
{"data":{"values":[{"t":"(b)","x":-0.107,"z":-1.039}]},"mark":{"type":"text","font":"Liberation Serif","fontSize":23,"fontWeight":"bold","align":"left","color":"#111"},"encoding":{"text":{"field":"t"}}},
{"data":{"values":[{"t":"t","x":-0.026,"z":-1.039}]},"mark":{"type":"text","font":"Liberation Serif","fontSize":23,"fontStyle":"italic","align":"left","color":"#111"},"encoding":{"text":{"field":"t"}}},
{"data":{"values":[{"t":"=  2 s","x":0.004,"z":-1.039}]},"mark":{"type":"text","font":"Liberation Serif","fontSize":23,"align":"left","color":"#111"},"encoding":{"text":{"field":"t"}}}
]}
]}
